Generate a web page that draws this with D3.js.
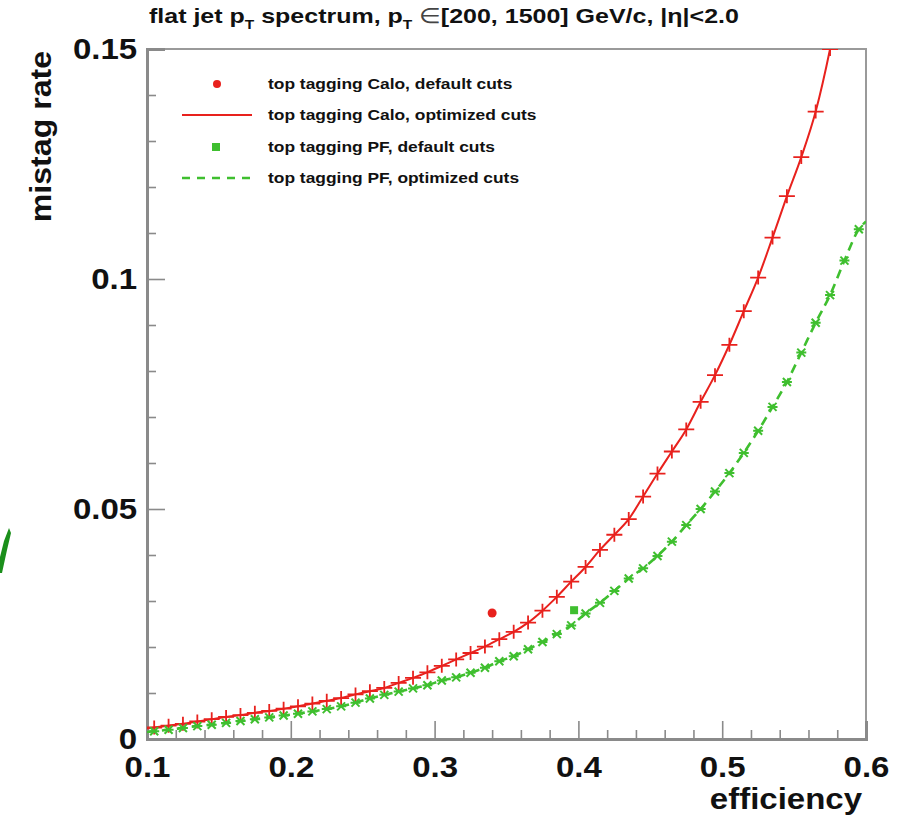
<!DOCTYPE html>
<html>
<head>
<meta charset="utf-8">
<script src="https://cdn.jsdelivr.net/npm/d3@7"></script>
<style>
  html, body { margin: 0; padding: 0; background: #fff; }
  svg { display: block; }
  text { font-family: "Liberation Sans", Arial, Helvetica, sans-serif; font-weight: bold; fill: #111; }
</style>
</head>
<body>
<svg id="chart" width="908" height="815"></svg>
<script>
// Efficiency vs mistag rate for top tagging, Calo and PF jets
const caloOptEff = [0.105,0.115,0.125,0.135,0.145,0.155,0.165,0.175,0.185,0.195,
  0.205,0.215,0.225,0.235,0.245,0.255,0.265,0.275,0.285,0.295,
  0.305,0.315,0.325,0.335,0.345,0.355,0.365,0.375,0.385,0.395,
  0.405,0.415,0.425,0.435,0.445,0.455,0.465,0.475,0.485,0.495,
  0.505,0.515,0.525,0.535,0.545,0.555,0.565,0.575];
const caloOptMistag = [0.0025,0.0029,0.0033,0.0038,0.0043,0.0048,0.0052,0.0057,0.0061,0.0066,
  0.0071,0.0077,0.0083,0.0089,0.0097,0.0104,0.0111,0.0122,0.0133,0.0145,
  0.0159,0.0173,0.0187,0.0201,0.0217,0.0233,0.0253,0.0279,0.0309,0.0342,
  0.0374,0.0411,0.0444,0.0478,0.0527,0.0577,0.0625,0.0673,0.0733,0.0791,
  0.0857,0.0930,0.1003,0.1090,0.1180,0.1265,0.1364,0.1500];

const pfOptEff = [0.105,0.115,0.125,0.135,0.145,0.155,0.165,0.175,0.185,0.195,
  0.205,0.215,0.225,0.235,0.245,0.255,0.265,0.275,0.285,0.295,
  0.305,0.315,0.325,0.335,0.345,0.355,0.365,0.375,0.385,0.395,
  0.405,0.415,0.425,0.435,0.445,0.455,0.465,0.475,0.485,0.495,
  0.505,0.515,0.525,0.535,0.545,0.555,0.565,0.575,0.585,0.595];
const pfOptMistag = [0.0017,0.0020,0.0024,0.0028,0.0031,0.0035,0.0039,0.0043,0.0047,0.0051,
  0.0055,0.0060,0.0065,0.0071,0.0079,0.0088,0.0096,0.0103,0.0110,0.0117,
  0.0127,0.0134,0.0144,0.0155,0.0169,0.0180,0.0195,0.0211,0.0228,0.0247,
  0.0273,0.0296,0.0322,0.0349,0.0371,0.0398,0.0429,0.0465,0.0500,0.0538,
  0.0578,0.0622,0.0670,0.0722,0.0776,0.0840,0.0905,0.0965,0.1040,0.1108];
// dashed PF curve runs on to the right edge of the frame
const pfLineEndEff = 0.600;
const pfLineEndMistag = 0.1125;

// default working points
const caloDefault = [0.340, 0.0274];
const pfDefault = [0.397, 0.0280];

const xTicks = [0.1, 0.2, 0.3, 0.4, 0.5, 0.6];
const xTickLabels = ["0.1", "0.2", "0.3", "0.4", "0.5", "0.6"];
const yTicks = [0, 0.05, 0.1, 0.15];
const yTickLabels = ["0", "0.05", "0.1", "0.15"];

const legendLabels = [
  "top tagging Calo, default cuts",
  "top tagging Calo, optimized cuts",
  "top tagging PF, default cuts",
  "top tagging PF, optimized cuts"
];

const RED = "#e8211d";
const GREEN = "#3fbf2f";
const AXIS = "#8a8a8a";

const svg = d3.select("#chart");
const L = 147, R = 866, T = 49, B = 739;

const x = d3.scaleLinear().domain([0.1, 0.6]).range([L, R]);
const y = d3.scaleLinear().domain([0, 0.15]).range([B, T]);

// frame
svg.append("rect")
  .attr("x", L).attr("y", T).attr("width", R - L).attr("height", B - T)
  .attr("fill", "none").attr("stroke", "#9a9a9a").attr("stroke-width", 2);

// minor ticks every fifth of a major interval
const xMinor = d3.range(0.1, 0.6001, 0.02).map(v => +v.toFixed(3)).filter(v => !xTicks.some(t => Math.abs(t - v) < 1e-6));
const yMinor = d3.range(0, 0.1501, 0.01).map(v => +v.toFixed(3)).filter(v => !yTicks.some(t => Math.abs(t - v) < 1e-6));

function styleAxis(g) {
  g.select(".domain").attr("stroke", AXIS).attr("stroke-width", 3);
  g.selectAll(".tick line").attr("stroke", AXIS).attr("stroke-width", 1.6);
  g.selectAll("text").attr("font-family", null).attr("font-size", null).attr("fill", "#111");
}

svg.append("g").attr("transform", `translate(0,${B})`)
  .call(d3.axisBottom(x).tickValues(xMinor).tickSize(-9).tickFormat(""))
  .call(styleAxis);
svg.append("g").attr("transform", `translate(0,${B})`)
  .call(d3.axisBottom(x).tickValues(xTicks).tickSize(-18).tickPadding(17)
    .tickFormat((d, i) => xTickLabels[i]))
  .call(styleAxis)
  .selectAll("text").style("font-size", "30px").attr("transform", "scale(1.1,1)");

svg.append("g").attr("transform", `translate(${L},0)`)
  .call(d3.axisLeft(y).tickValues(yMinor).tickSize(-9).tickFormat(""))
  .call(styleAxis);
svg.append("g").attr("transform", `translate(${L},0)`)
  .call(d3.axisLeft(y).tickValues(yTicks).tickSize(-18).tickPadding(9)
    .tickFormat((d, i) => yTickLabels[i]))
  .call(styleAxis)
  .selectAll("text").style("font-size", "30px").attr("transform", "scale(1.1,1)");

// axis titles
svg.append("text").attr("transform", `translate(${R - 4},809) scale(1.1,1)`)
  .attr("text-anchor", "end").style("font-size", "30px").text("efficiency");
svg.append("text").attr("transform", `translate(51,${T + 2}) rotate(-90) scale(1.07,1)`)
  .attr("text-anchor", "end").style("font-size", "30px").text("mistag rate");

// title
const title = svg.append("text").attr("transform", "translate(149,23) scale(1.19,1)")
  .style("font-size", "21px");
title.append("tspan").text("flat jet p");
title.append("tspan").attr("dy", 6).style("font-size", "13px").text("T");
title.append("tspan").attr("dy", -6).text(" spectrum, p");
title.append("tspan").attr("dy", 6).style("font-size", "13px").text("T");
title.append("tspan").attr("dy", -6).style("font-weight", "normal").attr("fill", "#444").text(" \u2208");
title.append("tspan").text("[200, 1500] GeV/c, |\u03b7|<2.0");

// plot area clip
svg.append("defs").append("clipPath").attr("id", "plotClip")
  .append("rect").attr("x", L).attr("y", T).attr("width", R - L).attr("height", B - T);
const plot = svg.append("g").attr("clip-path", "url(#plotClip)");

const line = d3.line().x(d => x(d[0])).y(d => y(d[1])).curve(d3.curveMonotoneX);

const caloPts = caloOptEff.map((e, i) => [e, caloOptMistag[i]]);
const pfPts = pfOptEff.map((e, i) => [e, pfOptMistag[i]]);

// Calo optimized: solid line, + markers
plot.append("path").datum([[0.1, 0.0023], ...caloPts, [0.580, 0.158]])
  .attr("d", line).attr("fill", "none").attr("stroke", RED).attr("stroke-width", 2);
plot.append("g").selectAll("path").data(caloPts).join("path")
  .attr("d", d => `M${x(d[0]) - 8},${y(d[1])}h16M${x(d[0])},${y(d[1]) - 7}v14`)
  .attr("stroke", RED).attr("stroke-width", 1.8).attr("fill", "none");

// PF optimized: dashed line, * markers
plot.append("path").datum([[0.1, 0.0015], ...pfPts, [pfLineEndEff, pfLineEndMistag]])
  .attr("d", line).attr("fill", "none").attr("stroke", GREEN).attr("stroke-width", 2.6)
  .attr("stroke-dasharray", "9,6");
plot.append("g").selectAll("path").data(pfPts).join("path")
  .attr("d", d => {
    const cx = x(d[0]), cy = y(d[1]), s = 4;
    return `M${cx - s},${cy - s}L${cx + s},${cy + s}M${cx - s},${cy + s}L${cx + s},${cy - s}M${cx - 5},${cy}h10`;
  })
  .attr("stroke", GREEN).attr("stroke-width", 2).attr("fill", "none");

// default working points
plot.append("circle").attr("cx", x(caloDefault[0])).attr("cy", y(caloDefault[1])).attr("r", 4.5).attr("fill", RED);
plot.append("rect").attr("x", x(pfDefault[0]) - 4).attr("y", y(pfDefault[1]) - 4)
  .attr("width", 8).attr("height", 8).attr("fill", GREEN);

// legend
const legY = [84, 115, 147, 178];
const leg = svg.append("g");
leg.append("circle").attr("cx", 217).attr("cy", legY[0]).attr("r", 4).attr("fill", RED);
leg.append("line").attr("x1", 182).attr("x2", 252).attr("y1", legY[1]).attr("y2", legY[1])
  .attr("stroke", RED).attr("stroke-width", 2);
leg.append("rect").attr("x", 212).attr("y", legY[2] - 4).attr("width", 8).attr("height", 8).attr("fill", GREEN);
leg.append("line").attr("x1", 182).attr("x2", 252).attr("y1", legY[3]).attr("y2", legY[3])
  .attr("stroke", GREEN).attr("stroke-width", 2.6).attr("stroke-dasharray", "8,7");
leg.selectAll("text.leg").data(legendLabels).join("text").attr("class", "leg")
  .attr("transform", (d, i) => `translate(268,${legY[i] + 5}) scale(1.2,1)`)
  .style("font-size", "14.5px").text(d => d);

// green pen stroke at the left edge
svg.append("path").attr("d", "M0,573 L0,557 L4,541 L9,528 L11,533 L7,550 L2,573 Z")
  .attr("fill", "#1b8f1b");
</script>
</body>
</html>
